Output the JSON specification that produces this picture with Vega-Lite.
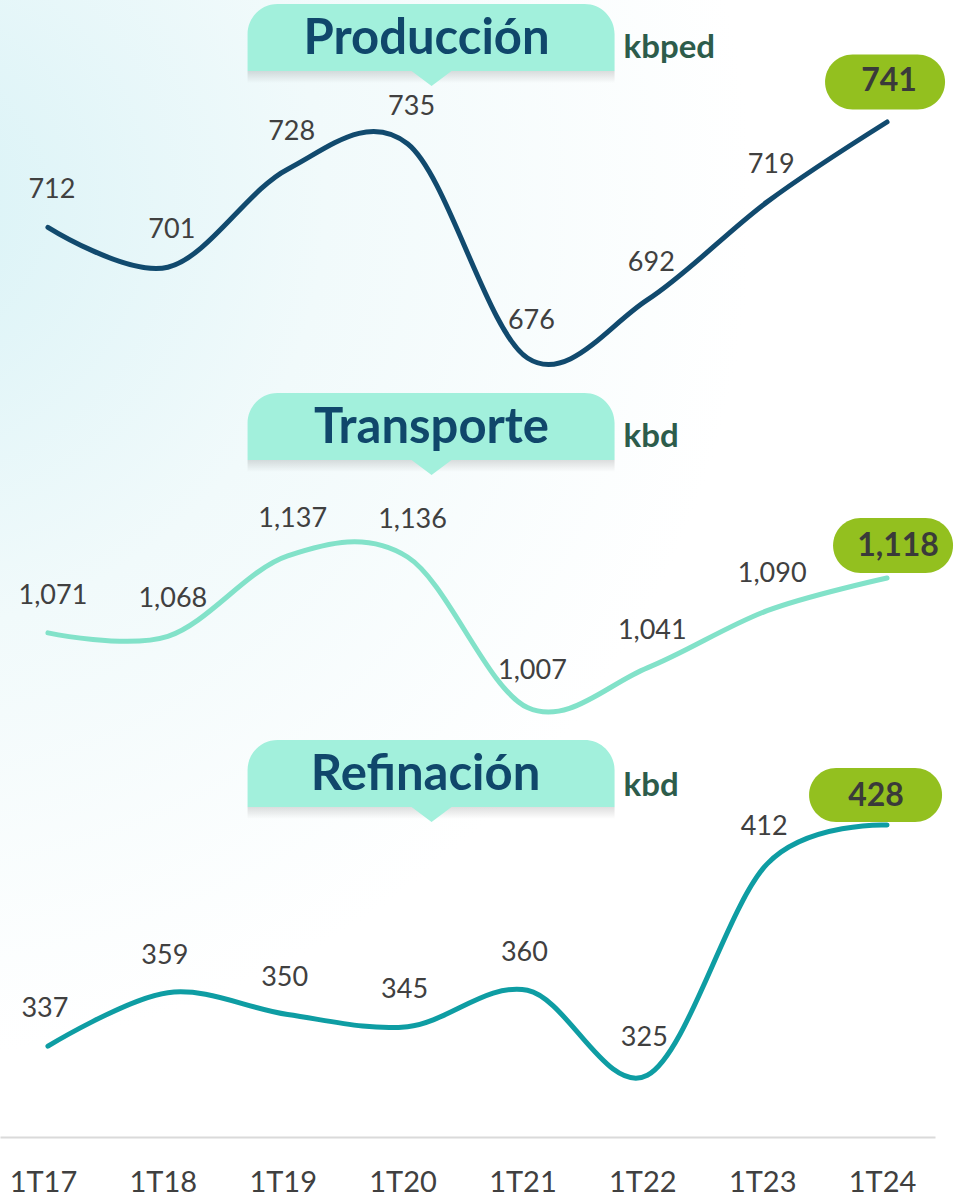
{
  "$schema": "https://vega.github.io/schema/vega-lite/v6.json",
  "width": 935,
  "height": 1137,
  "autosize": "none",
  "padding": {"left": 0, "top": 0, "right": 20, "bottom": 65},
  "background": "#FFFFFF",
  "datasets": {
    "series": [
      {"serie": "Producción", "periodo": "1T17", "valor": 712},
      {"serie": "Producción", "periodo": "1T18", "valor": 701},
      {"serie": "Producción", "periodo": "1T19", "valor": 728},
      {"serie": "Producción", "periodo": "1T20", "valor": 735},
      {"serie": "Producción", "periodo": "1T21", "valor": 676},
      {"serie": "Producción", "periodo": "1T22", "valor": 692},
      {"serie": "Producción", "periodo": "1T23", "valor": 719},
      {"serie": "Producción", "periodo": "1T24", "valor": 741},
      {"serie": "Transporte", "periodo": "1T17", "valor": 1071},
      {"serie": "Transporte", "periodo": "1T18", "valor": 1068},
      {"serie": "Transporte", "periodo": "1T19", "valor": 1137},
      {"serie": "Transporte", "periodo": "1T20", "valor": 1136},
      {"serie": "Transporte", "periodo": "1T21", "valor": 1007},
      {"serie": "Transporte", "periodo": "1T22", "valor": 1041},
      {"serie": "Transporte", "periodo": "1T23", "valor": 1090},
      {"serie": "Transporte", "periodo": "1T24", "valor": 1118},
      {"serie": "Refinación", "periodo": "1T17", "valor": 337},
      {"serie": "Refinación", "periodo": "1T18", "valor": 359},
      {"serie": "Refinación", "periodo": "1T19", "valor": 350},
      {"serie": "Refinación", "periodo": "1T20", "valor": 345},
      {"serie": "Refinación", "periodo": "1T21", "valor": 360},
      {"serie": "Refinación", "periodo": "1T22", "valor": 325},
      {"serie": "Refinación", "periodo": "1T23", "valor": 412},
      {"serie": "Refinación", "periodo": "1T24", "valor": 428}
    ]
  },
  "config": {
    "view": {
      "stroke": null,
      "fill": {"gradient": "radial", "x1": 0, "y1": 0.18, "r1": 0, "x2": 0, "y2": 0.18, "r2": 0.75,
        "stops": [{"offset": 0, "color": "#D8F2F6"}, {"offset": 0.5, "color": "#F1FAFB"}, {"offset": 1, "color": "#FFFFFF"}]}
    },
    "font": "Lato",
    "text": {"font": "Lato"},
    "axisX": {
      "domainColor": "#DADADA", "domainWidth": 2, "ticks": false, "grid": false,
      "labelFont": "Lato", "labelFontSize": 29, "labelColor": "#404040", "labelAngle": 0,
      "labelPadding": 31, "labelOffset": -5, "title": null
    },
    "axisY": {"disable": true}
  },
  "layer": [
    {
      "layer": [
        {
          "data": {"name": "series"},
          "transform": [{"filter": "datum.serie === 'Producción'"}],
          "layer": [
            {
              "mark": {"type": "line", "interpolate": "cardinal", "tension": 0, "strokeWidth": 5, "strokeCap": "round", "color": "#114A6E"},
              "encoding": {
                "x": {"field": "periodo", "type": "ordinal", "scale": {"type": "point", "padding": 0.4}, "title": null},
                "y": {"field": "valor", "type": "quantitative", "scale": {"domain": [461.45, 774.6], "zero": false, "nice": false}, "axis": null}
              }
            },
            {
              "transform": [{"filter": "datum.periodo !== '1T24'"}],
              "mark": {"type": "text", "dy": -37, "dx": 4, "fontSize": 27, "color": "#404040"},
              "encoding": {
                "x": {"field": "periodo", "type": "ordinal"},
                "y": {"field": "valor", "type": "quantitative", "axis": null},
                "text": {"field": "valor", "format": ","}
              }
            },
            {
              "transform": [{"filter": "datum.periodo === '1T24'"}],
              "mark": {"type": "point", "shape": "M-34.5,-67.5 L30.5,-67.5 A27.5,27.5 0 0 1 30.5,-12.5 L-34.5,-12.5 A27.5,27.5 0 0 1 -34.5,-67.5 Z", "size": 4, "filled": true, "opacity": 1, "color": "#93C01F", "strokeWidth": 0},
              "encoding": {
                "x": {"field": "periodo", "type": "ordinal"},
                "y": {"field": "valor", "type": "quantitative", "axis": null}
              }
            },
            {
              "transform": [{"filter": "datum.periodo === '1T24'"}],
              "mark": {"type": "text", "dx": 2, "dy": -41, "fontSize": 32, "fontWeight": "bold", "color": "#3A3A3A"},
              "encoding": {
                "x": {"field": "periodo", "type": "ordinal"},
                "y": {"field": "valor", "type": "quantitative", "axis": null},
                "text": {"field": "valor", "format": ","}
              }
            }
          ]
        },
        {
          "data": {"values": [{"titulo": "Producción", "unidad": "kbped"}]},
          "layer": [
            {
              "mark": {"type": "point", "shape": "M-160,33 L207,33 L207,45 L-160,45 Z", "size": 4, "filled": true, "opacity": 1, "strokeWidth": 0,
                "fill": {"gradient": "linear", "x1": 0, "y1": 0, "x2": 0, "y2": 1, "stops": [{"offset": 0, "color": "rgba(0,0,0,0.13)"}, {"offset": 1, "color": "rgba(0,0,0,0)"}]}},
              "encoding": {
                "x": {"datum": "1T20", "type": "ordinal"},
                "y": {"datum": 764.1, "type": "quantitative", "axis": null}
              }
            },
            {
              "mark": {"type": "point", "shape": "M-160,33 L-160,-4 A30,30 0 0 1 -130,-34 L177,-34 A30,30 0 0 1 207,-4 L207,33 L44,33 L24,48 L4,33 Z", "size": 4, "filled": true, "opacity": 1, "color": "#A2F0DC", "strokeWidth": 0},
              "encoding": {
                "x": {"datum": "1T20", "type": "ordinal"},
                "y": {"datum": 764.1, "type": "quantitative", "axis": null}
              }
            },
            {
              "mark": {"type": "text", "dx": 19, "dy": 1, "fontSize": 49, "fontWeight": "bold", "color": "#10476B"},
              "encoding": {
                "x": {"datum": "1T20", "type": "ordinal"},
                "y": {"datum": 764.1, "type": "quantitative", "axis": null},
                "text": {"field": "titulo"}
              }
            },
            {
              "mark": {"type": "text", "dx": 216, "dy": 10, "align": "left", "fontSize": 33, "fontWeight": "bold", "color": "#2D5C4B"},
              "encoding": {
                "x": {"datum": "1T20", "type": "ordinal"},
                "y": {"datum": 764.1, "type": "quantitative", "axis": null},
                "text": {"field": "unidad"}
              }
            }
          ]
        }
      ]
    },
    {
      "layer": [
        {
          "data": {"name": "series"},
          "transform": [{"filter": "datum.serie === 'Transporte'"}],
          "layer": [
            {
              "mark": {"type": "line", "interpolate": "cardinal", "tension": 0, "strokeWidth": 5, "strokeCap": "round", "color": "#82E2C9"},
              "encoding": {
                "x": {"field": "periodo", "type": "ordinal", "title": null},
                "y": {"field": "valor", "type": "quantitative", "scale": {"domain": [639.0, 1613.3], "zero": false, "nice": false}, "axis": null}
              }
            },
            {
              "transform": [{"filter": "datum.periodo !== '1T24'"}],
              "mark": {"type": "text", "dy": -37, "dx": 5, "fontSize": 27, "color": "#404040"},
              "encoding": {
                "x": {"field": "periodo", "type": "ordinal"},
                "y": {"field": "valor", "type": "quantitative", "axis": null},
                "text": {"field": "valor", "format": ","}
              }
            },
            {
              "transform": [{"filter": "datum.periodo === '1T24'"}],
              "mark": {"type": "point", "shape": "M-26.5,-60 L38.5,-60 A27.5,27.5 0 0 1 38.5,-5 L-26.5,-5 A27.5,27.5 0 0 1 -26.5,-60 Z", "size": 4, "filled": true, "opacity": 1, "color": "#93C01F", "strokeWidth": 0},
              "encoding": {
                "x": {"field": "periodo", "type": "ordinal"},
                "y": {"field": "valor", "type": "quantitative", "axis": null}
              }
            },
            {
              "transform": [{"filter": "datum.periodo === '1T24'"}],
              "mark": {"type": "text", "dx": 11, "dy": -32, "fontSize": 32, "fontWeight": "bold", "color": "#3A3A3A"},
              "encoding": {
                "x": {"field": "periodo", "type": "ordinal"},
                "y": {"field": "valor", "type": "quantitative", "axis": null},
                "text": {"field": "valor", "format": ","}
              }
            }
          ]
        },
        {
          "data": {"values": [{"titulo": "Transporte", "unidad": "kbd"}]},
          "layer": [
            {
              "mark": {"type": "point", "shape": "M-160,33 L207,33 L207,45 L-160,45 Z", "size": 4, "filled": true, "opacity": 1, "strokeWidth": 0,
                "fill": {"gradient": "linear", "x1": 0, "y1": 0, "x2": 0, "y2": 1, "stops": [{"offset": 0, "color": "rgba(0,0,0,0.13)"}, {"offset": 1, "color": "rgba(0,0,0,0)"}]}},
              "encoding": {
                "x": {"datum": "1T20", "type": "ordinal"},
                "y": {"datum": 1247.4, "type": "quantitative", "axis": null}
              }
            },
            {
              "mark": {"type": "point", "shape": "M-160,33 L-160,-4 A30,30 0 0 1 -130,-34 L177,-34 A30,30 0 0 1 207,-4 L207,33 L44,33 L24,48 L4,33 Z", "size": 4, "filled": true, "opacity": 1, "color": "#A2F0DC", "strokeWidth": 0},
              "encoding": {
                "x": {"datum": "1T20", "type": "ordinal"},
                "y": {"datum": 1247.4, "type": "quantitative", "axis": null}
              }
            },
            {
              "mark": {"type": "text", "dx": 24, "dy": 1, "fontSize": 49, "fontWeight": "bold", "color": "#10476B"},
              "encoding": {
                "x": {"datum": "1T20", "type": "ordinal"},
                "y": {"datum": 1247.4, "type": "quantitative", "axis": null},
                "text": {"field": "titulo"}
              }
            },
            {
              "mark": {"type": "text", "dx": 216, "dy": 10, "align": "left", "fontSize": 33, "fontWeight": "bold", "color": "#2D5C4B"},
              "encoding": {
                "x": {"datum": "1T20", "type": "ordinal"},
                "y": {"datum": 1247.4, "type": "quantitative", "axis": null},
                "text": {"field": "unidad"}
              }
            }
          ]
        }
      ]
    },
    {
      "layer": [
        {
          "data": {"name": "series"},
          "transform": [{"filter": "datum.serie === 'Refinación'"}],
          "layer": [
            {
              "mark": {"type": "line", "interpolate": "cardinal", "tension": 0, "strokeWidth": 5, "strokeCap": "round", "color": "#0E9DA3"},
              "encoding": {
                "x": {"field": "periodo", "type": "ordinal", "title": null},
                "y": {"field": "valor", "type": "quantitative", "scale": {"domain": [299.6, 767.5], "zero": false, "nice": false}, "axis": null}
              }
            },
            {
              "transform": [{"filter": "datum.periodo !== '1T24'"}],
              "mark": {"type": "text", "dy": -37, "dx": -3, "fontSize": 27, "color": "#404040"},
              "encoding": {
                "x": {"field": "periodo", "type": "ordinal"},
                "y": {"field": "valor", "type": "quantitative", "axis": null},
                "text": {"field": "valor", "format": ","}
              }
            },
            {
              "transform": [{"filter": "datum.periodo === '1T24'"}],
              "mark": {"type": "point", "shape": "M-51,-57 L28,-57 A27,27 0 0 1 28,-3 L-51,-3 A27,27 0 0 1 -51,-57 Z", "size": 4, "filled": true, "opacity": 1, "color": "#93C01F", "strokeWidth": 0},
              "encoding": {
                "x": {"field": "periodo", "type": "ordinal"},
                "y": {"field": "valor", "type": "quantitative", "axis": null}
              }
            },
            {
              "transform": [{"filter": "datum.periodo === '1T24'"}],
              "mark": {"type": "text", "dx": -11, "dy": -29, "fontSize": 32, "fontWeight": "bold", "color": "#3A3A3A"},
              "encoding": {
                "x": {"field": "periodo", "type": "ordinal"},
                "y": {"field": "valor", "type": "quantitative", "axis": null},
                "text": {"field": "valor", "format": ","}
              }
            }
          ]
        },
        {
          "data": {"values": [{"titulo": "Refinación", "unidad": "kbd"}]},
          "layer": [
            {
              "mark": {"type": "point", "shape": "M-160,33 L207,33 L207,45 L-160,45 Z", "size": 4, "filled": true, "opacity": 1, "strokeWidth": 0,
                "fill": {"gradient": "linear", "x1": 0, "y1": 0, "x2": 0, "y2": 1, "stops": [{"offset": 0, "color": "rgba(0,0,0,0.13)"}, {"offset": 1, "color": "rgba(0,0,0,0)"}]}},
              "encoding": {
                "x": {"datum": "1T20", "type": "ordinal"},
                "y": {"datum": 449.0, "type": "quantitative", "axis": null}
              }
            },
            {
              "mark": {"type": "point", "shape": "M-160,33 L-160,-4 A30,30 0 0 1 -130,-34 L177,-34 A30,30 0 0 1 207,-4 L207,33 L44,33 L24,48 L4,33 Z", "size": 4, "filled": true, "opacity": 1, "color": "#A2F0DC", "strokeWidth": 0},
              "encoding": {
                "x": {"datum": "1T20", "type": "ordinal"},
                "y": {"datum": 449.0, "type": "quantitative", "axis": null}
              }
            },
            {
              "mark": {"type": "text", "dx": 18, "dy": 1, "fontSize": 49, "fontWeight": "bold", "color": "#10476B"},
              "encoding": {
                "x": {"datum": "1T20", "type": "ordinal"},
                "y": {"datum": 449.0, "type": "quantitative", "axis": null},
                "text": {"field": "titulo"}
              }
            },
            {
              "mark": {"type": "text", "dx": 216, "dy": 12, "align": "left", "fontSize": 33, "fontWeight": "bold", "color": "#2D5C4B"},
              "encoding": {
                "x": {"datum": "1T20", "type": "ordinal"},
                "y": {"datum": 449.0, "type": "quantitative", "axis": null},
                "text": {"field": "unidad"}
              }
            }
          ]
        }
      ]
    }
  ],
  "resolve": {"scale": {"y": "independent"}}
}
